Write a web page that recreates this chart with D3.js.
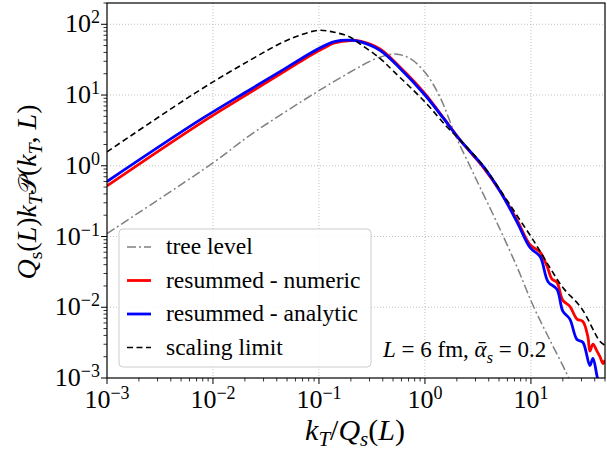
<!DOCTYPE html>
<html>
<head>
<meta charset="utf-8">
<script src="https://cdn.jsdelivr.net/npm/d3@7"></script>
<style>
  body { margin: 0; background: #fff; }
</style>
</head>
<body>
<div id="chart"></div>
<script>
// values (k_T/Q_s, Q_s k_T P)
var treeX = [0.001, 0.01, 0.0223, 0.095, 0.196, 0.35, 0.52, 0.72, 1.0, 1.38, 1.98, 2.65, 3.3, 4.75, 7.4, 10.5, 15, 21.7, 25];
var treeY = [0.11, 1.1, 2.7, 11, 21, 33, 38, 33, 21, 9.5, 2.5, 1.0, 0.5, 0.16, 0.037, 0.0105, 0.0035, 0.00116, 0.0007];

var numX = [0.001, 0.00754, 0.0223, 0.0457, 0.066, 0.082, 0.12, 0.14, 0.2, 0.25, 0.376, 0.58, 1.0, 1.49, 2.15, 3.55, 5.1, 7.4, 9.8, 12.2, 14.2, 15.8, 17.6, 20.0, 23.3, 27.2, 30.9, 34.5, 36.0, 38.5, 42, 44.8, 48, 50];
var numY = [0.52, 3.95, 10.8, 21, 29.5, 36, 49, 54.5, 59, 57.5, 45, 25, 10.5, 4.8, 2.3, 0.95, 0.44, 0.17, 0.077, 0.06, 0.038, 0.025, 0.0225, 0.0125, 0.0103, 0.0068, 0.0063, 0.0038, 0.0024, 0.0030, 0.0024, 0.0020, 0.0016, 0.0018];

var anaX = [0.001, 0.00754, 0.0223, 0.0457, 0.066, 0.082, 0.12, 0.14, 0.196, 0.243, 0.376, 0.58, 1.0, 1.49, 2.15, 3.55, 5.1, 7.4, 9.8, 12.2, 14.5, 17.6, 20.0, 23.3, 27.2, 30.9, 36.0, 38.5, 42, 45];
var anaY = [0.60, 4.45, 11.9, 22.7, 31.8, 38.7, 52, 57, 59.6, 57, 43, 24, 10, 4.7, 2.3, 0.98, 0.44, 0.16, 0.070, 0.052, 0.023, 0.018, 0.0088, 0.0068, 0.0035, 0.0032, 0.0015, 0.0019, 0.00107, 0.0007];

var scalX = [0.001, 0.00754, 0.0223, 0.0457, 0.066, 0.098, 0.14, 0.196, 0.243, 0.376, 0.5, 1.0, 1.6, 2.15, 3.55, 5.1, 7.9, 10, 11.6, 15, 20, 30, 44.7, 50];
var scalY = [1.57, 11.8, 31, 56, 70, 82, 77, 66, 53, 33, 22, 8.0, 3.6, 2.3, 1.0, 0.46, 0.17, 0.1, 0.07, 0.037, 0.019, 0.0097, 0.0033, 0.0029];

var xTicks = [1e-3, 1e-2, 1e-1, 1e0, 1e1];
var xTickExp = ["\u22123", "\u22122", "\u22121", "0", "1"];
var yTicks = [1e-3, 1e-2, 1e-1, 1e0, 1e1, 1e2];
var yTickExp = ["\u22123", "\u22122", "\u22121", "0", "1", "2"];

var legendNames = ["tree level", "resummed - numeric", "resummed - analytic", "scaling limit"];

var svgWidth = 607, svgHeight = 453;
var margin = { top: 3, right: 2, bottom: 75, left: 107 };
var width = svgWidth - margin.left - margin.right;
var height = svgHeight - margin.top - margin.bottom;
var serif = '"Liberation Serif", "Times New Roman", "DejaVu Serif", serif';

var svg = d3.select("#chart").append("svg")
  .attr("width", svgWidth)
  .attr("height", svgHeight)
  .attr("font-family", serif);

var g = svg.append("g")
  .attr("transform", "translate(" + margin.left + "," + margin.top + ")");

var x = d3.scaleLog().domain([1e-3, 50]).range([0, width]);
var y = d3.scaleLog().domain([1e-3, 200]).range([height, 0]);

// minor ticks
var xMinor = [], yMinor = [];
[1e-3, 1e-2, 1e-1, 1, 10].forEach(function(d) {
  for (var k = 2; k <= 9; k++) if (d * k <= 50) xMinor.push(d * k);
});
[1e-3, 1e-2, 1e-1, 1, 10, 100].forEach(function(d) {
  for (var k = 2; k <= 9; k++) if (d * k <= 200) yMinor.push(d * k);
});

// grid
g.selectAll(".gx").data(xTicks.slice(1)).enter().append("line")
  .attr("x1", function(d) { return x(d); }).attr("x2", function(d) { return x(d); })
  .attr("y1", 0).attr("y2", height)
  .attr("stroke", "#b0b0b0").attr("stroke-width", 0.8).attr("stroke-dasharray", "1,2");
g.selectAll(".gy").data(yTicks.slice(1)).enter().append("line")
  .attr("y1", function(d) { return y(d); }).attr("y2", function(d) { return y(d); })
  .attr("x1", 0).attr("x2", width)
  .attr("stroke", "#b0b0b0").attr("stroke-width", 0.8).attr("stroke-dasharray", "1,2");

// clip
svg.append("defs").append("clipPath").attr("id", "clip")
  .append("rect").attr("width", width).attr("height", height);

var line = d3.line()
  .x(function(d) { return x(d[0]); })
  .y(function(d) { return y(d[1]); })
  .curve(d3.curveCatmullRom.alpha(0.5));

function zip(a, b) { return a.map(function(v, i) { return [v, b[i]]; }); }

var series = [
  { xs: treeX, ys: treeY, color: "#808080", w: 1.5, dash: "9,3,2,3" },
  { xs: numX, ys: numY, color: "#ff0000", w: 2.8, dash: null },
  { xs: anaX, ys: anaY, color: "#0000ff", w: 2.8, dash: null },
  { xs: scalX, ys: scalY, color: "#000000", w: 1.6, dash: "6,3.5" }
];

var plot = g.append("g").attr("clip-path", "url(#clip)");
series.forEach(function(s) {
  plot.append("path")
    .attr("d", line(zip(s.xs, s.ys)))
    .attr("fill", "none")
    .attr("stroke", s.color)
    .attr("stroke-width", s.w)
    .attr("stroke-dasharray", s.dash);
});

// frame
g.append("rect").attr("width", width).attr("height", height)
  .attr("fill", "none").attr("stroke", "#000").attr("stroke-width", 1.2);

// ticks
g.selectAll(".xt").data(xTicks).enter().append("line")
  .attr("x1", function(d) { return x(d); }).attr("x2", function(d) { return x(d); })
  .attr("y1", height).attr("y2", height + 6).attr("stroke", "#000").attr("stroke-width", 1);
g.selectAll(".xm").data(xMinor).enter().append("line")
  .attr("x1", function(d) { return x(d); }).attr("x2", function(d) { return x(d); })
  .attr("y1", height).attr("y2", height + 3.5).attr("stroke", "#000").attr("stroke-width", 0.8);
g.selectAll(".yt").data(yTicks).enter().append("line")
  .attr("y1", function(d) { return y(d); }).attr("y2", function(d) { return y(d); })
  .attr("x1", 0).attr("x2", -6).attr("stroke", "#000").attr("stroke-width", 1);
g.selectAll(".ym").data(yMinor).enter().append("line")
  .attr("y1", function(d) { return y(d); }).attr("y2", function(d) { return y(d); })
  .attr("x1", 0).attr("x2", -3.5).attr("stroke", "#000").attr("stroke-width", 0.8);

function powLabel(sel, exp) {
  sel.append("tspan").text("10");
  sel.append("tspan").attr("dy", -9).attr("font-size", 18).text(exp);
}

xTicks.forEach(function(d, i) {
  var t = g.append("text")
    .attr("x", x(d)).attr("y", height + 30)
    .attr("text-anchor", "middle").attr("font-size", 26);
  powLabel(t, xTickExp[i]);
});
yTicks.forEach(function(d, i) {
  var t = g.append("text")
    .attr("x", -7).attr("y", y(d) + 8)
    .attr("text-anchor", "end").attr("font-size", 26);
  powLabel(t, yTickExp[i]);
});

// math-ish labels
function mathText(sel, parts) {
  var shift = 0;
  parts.forEach(function(p) {
    var ts = sel.append("tspan").text(p[0]);
    var sub = p[1] === "sub" || p[1] === "subr";
    var want = sub ? 6 : 0;
    if (want !== shift) { ts.attr("dy", want - shift); shift = want; }
    if (p[1] === "i" || p[1] === "sub") ts.attr("font-style", "italic");
    if (sub) ts.attr("font-size", "0.7em");
    if (p[1] === "cal") ts.attr("font-family", "DejaVu Serif").attr("font-size", "0.9em");
  });
}

var yl = svg.append("text")
  .attr("transform", "translate(36,192) rotate(-90)")
  .attr("text-anchor", "middle").attr("font-size", 28);
mathText(yl, [["Q", "i"], ["s", "subr"], ["(", "r"], ["L", "i"], [")", "r"], ["k", "i"], ["T", "sub"],
  ["\uD835\uDCAB", "cal"], ["(", "r"], ["k", "i"], ["T", "sub"], [", ", "r"], ["L", "i"], [")", "r"]]);

var xl = svg.append("text")
  .attr("x", 355).attr("y", 440)
  .attr("text-anchor", "middle").attr("font-size", 30);
mathText(xl, [["k", "i"], ["T", "sub"], ["/", "r"], ["Q", "i"], ["s", "sub"], ["(", "r"], ["L", "i"], [")", "r"]]);

var ann = svg.append("text")
  .attr("x", 383).attr("y", 357).attr("font-size", 23);
mathText(ann, [["L", "i"], [" = 6 fm, ", "r"], ["\u1FB1", "i"], ["s", "sub"], [" = 0.2", "r"]]);

// legend
var lg = svg.append("g");
lg.append("rect")
  .attr("x", 119).attr("y", 229).attr("width", 252).attr("height", 138).attr("rx", 4)
  .attr("fill", "#fff").attr("fill-opacity", 0.85)
  .attr("stroke", "#cccccc").attr("stroke-width", 1);
legendNames.forEach(function(name, i) {
  var s = series[i];
  var yy = 247 + i * 33.5;
  lg.append("line")
    .attr("x1", 127).attr("x2", 151).attr("y1", yy).attr("y2", yy)
    .attr("stroke", s.color).attr("stroke-width", s.w)
    .attr("stroke-dasharray", s.dash);
  lg.append("text")
    .attr("x", 166).attr("y", yy + 7).attr("font-size", 23.5)
    .text(name);
});
</script>
</body>
</html>
